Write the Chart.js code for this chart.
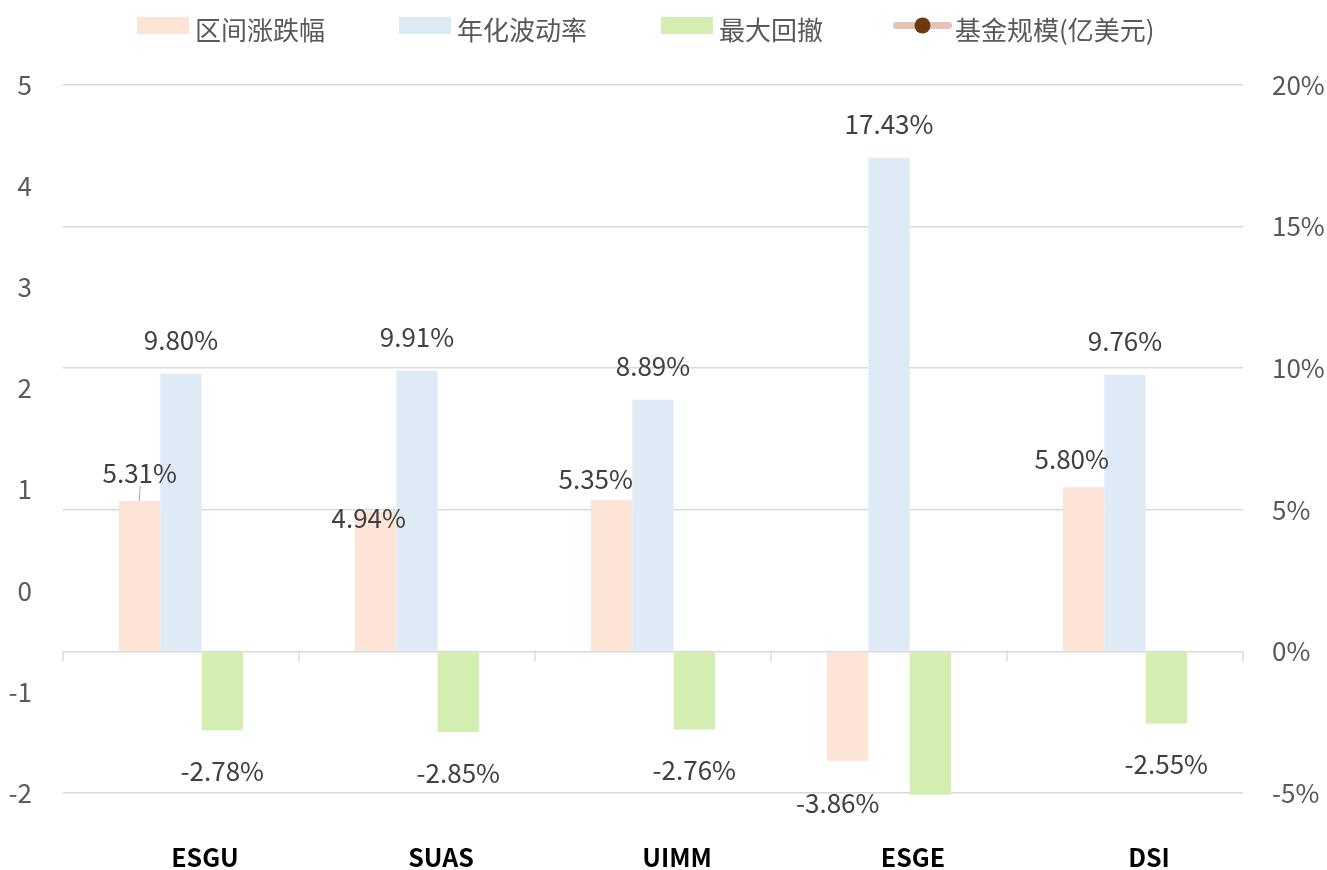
<!DOCTYPE html>
<html>
<head>
<meta charset="utf-8">
<script src="https://cdn.jsdelivr.net/npm/chart.js@4.4.0/dist/chart.umd.min.js"></script>
<style>
  html, body { margin: 0; padding: 0; background: #ffffff; }
  #wrap { width: 1327px; height: 870px; }
</style>
</head>
<body>
<div id="wrap"><canvas id="c" width="1327" height="870"></canvas></div>
<script>
// ---------------- data ----------------
const categories = ['ESGU', 'SUAS', 'UIMM', 'ESGE', 'DSI'];
const seriesNames = ['区间涨跌幅', '年化波动率', '最大回撤', '基金规模(亿美元)'];
const periodReturn = [5.31, 4.94, 5.35, -3.86, 5.80];     // %
const annualVol = [9.80, 9.91, 8.89, 17.43, 9.76];         // %
const maxDrawdown = [-2.78, -2.85, -2.76, -5.06, -2.55];   // %
const fundSize = [null, null, null, null, null];           // 亿美元 (no visible points)
const leftTicks = { min: -2, max: 5, step: 1 };
const rightTicks = { min: -5, max: 20, step: 5 };
const labelShown = [
  [true, true, true, true, true],
  [true, true, true, true, true],
  [true, true, true, false, true]
];

// ---------------- styles ----------------
const FONT = "'Noto Sans CJK SC', 'Noto Sans', sans-serif";
const COL = {
  ret: '#FCE4D6', vol: '#DEEBF7', dd: '#D4EEB1',
  line: '#E6C4B5', dot: '#6B3A0E',
  grid: '#D9D9D9', axis: '#595959', label: '#404040', cat: '#000000'
};
// label centre offsets relative to the end of each bar
const labelOffsets = [
  [[0, -28], [-7, 7], [-16, -21], [-10, 42], [-12, -28]],
  [[0, -34], [0, -34], [0, -34], [0, -34], [0, -34]],
  [[0, 41], [0, 41], [0, 41], [0, 41], [0, 41]]
];
const leaderLines = [
  [true, false, false, false, false],
  [false, false, false, false, false],
  [false, false, false, false, false]
];
const LEGEND_SLOT = 109;

Chart.defaults.font.family = FONT;

// legend icons
function boxIcon(color) {
  const c = document.createElement('canvas');
  c.width = LEGEND_SLOT + 14; c.height = 26;
  const g = c.getContext('2d');
  g.fillStyle = color;
  g.fillRect(c.width - 52, 0, 52, 17);
  return c;
}
function lineIcon() {
  const c = document.createElement('canvas');
  c.width = LEGEND_SLOT + 20; c.height = 26;
  const g = c.getContext('2d');
  const x1 = c.width - 59 + 3.5, x2 = c.width - 3.5, yc = 8.5;
  g.strokeStyle = COL.line; g.lineWidth = 7; g.lineCap = 'round';
  g.beginPath(); g.moveTo(x1, yc); g.lineTo(x2, yc); g.stroke();
  g.fillStyle = COL.dot;
  g.beginPath(); g.arc((x1 + x2) / 2, yc, 8, 0, Math.PI * 2); g.fill();
  return c;
}
const legendIcons = [boxIcon(COL.ret), boxIcon(COL.vol), boxIcon(COL.dd), lineIcon()];

// ---------------- plugins ----------------
const legendSpacing = {
  id: 'legendSpacing',
  beforeLayout(chart) {
    const lg = chart.legend;
    if (lg && !lg._spaced) {
      const orig = lg.fit;
      lg.fit = function () { orig.call(this); this.height += 32; };
      lg._spaced = true;
    }
  }
};

const zeroAxisTicks = {
  id: 'zeroAxisTicks',
  beforeDatasetsDraw(chart) {
    const { ctx, scales: { x, y1 } } = chart;
    const y0 = y1.getPixelForValue(0);
    ctx.save();
    ctx.strokeStyle = COL.grid;
    ctx.lineWidth = 1.5;
    ctx.beginPath();
    for (let i = 0; i <= categories.length; i++) {
      const px = Math.round(x.getPixelForValue(i - 0.5));
      ctx.moveTo(px, y0);
      ctx.lineTo(px, y0 + 10);
    }
    ctx.stroke();
    ctx.restore();
  }
};

const barLabels = {
  id: 'barLabels',
  afterDatasetsDraw(chart) {
    const ctx = chart.ctx;
    ctx.save();
    ctx.font = '26px ' + FONT;
    ctx.textAlign = 'center';
    ctx.textBaseline = 'middle';
    for (let di = 0; di < 3; di++) {
      const meta = chart.getDatasetMeta(di);
      const vals = chart.data.datasets[di].data;
      meta.data.forEach((el, i) => {
        if (!labelShown[di][i]) return;
        const [dx, dy] = labelOffsets[di][i];
        const tx = el.x + dx, ty = el.y + dy;
        if (leaderLines[di][i]) {
          ctx.strokeStyle = '#A6A6A6';
          ctx.lineWidth = 1;
          ctx.beginPath();
          ctx.moveTo(tx + 0.5, ty + 13);
          ctx.lineTo(el.x - 0.5, el.y);
          ctx.stroke();
        }
        ctx.fillStyle = COL.label;
        ctx.fillText(vals[i].toFixed(2) + '%', tx, ty);
      });
    }
    ctx.restore();
  }
};

// ---------------- chart ----------------
new Chart(document.getElementById('c'), {
  data: {
    labels: categories,
    datasets: [
      { type: 'bar', label: seriesNames[0], data: periodReturn, yAxisID: 'y1', backgroundColor: COL.ret, borderWidth: 0 },
      { type: 'bar', label: seriesNames[1], data: annualVol, yAxisID: 'y1', backgroundColor: COL.vol, borderWidth: 0 },
      { type: 'bar', label: seriesNames[2], data: maxDrawdown, yAxisID: 'y1', backgroundColor: COL.dd, borderWidth: 0, clip: false },
      { type: 'line', label: seriesNames[3], data: fundSize, yAxisID: 'y', borderColor: COL.line, backgroundColor: COL.dot,
        borderWidth: 4, pointRadius: 6, pointBackgroundColor: COL.dot, pointBorderColor: COL.dot }
    ]
  },
  options: {
    responsive: false,
    devicePixelRatio: 1,
    animation: false,
    layout: { padding: { top: 7, left: 0, right: 0, bottom: 0 } },
    datasets: { bar: { categoryPercentage: 0.525, barPercentage: 1.0 } },
    plugins: {
      tooltip: { enabled: false },
      legend: {
        display: true,
        position: 'top',
        align: 'start',
        fullSize: false,
        labels: {
          usePointStyle: true,
          pointStyleWidth: LEGEND_SLOT,
          padding: 10,
          color: COL.axis,
          font: { size: 26, family: FONT },
          generateLabels(chart) {
            const items = Chart.defaults.plugins.legend.labels.generateLabels(chart);
            items.forEach((it, i) => { it.pointStyle = legendIcons[i]; });
            return items;
          }
        }
      }
    },
    scales: {
      x: {
        grid: { display: false, drawTicks: false },
        border: { display: false },
        ticks: { color: COL.cat, font: { size: 25, weight: 'bold', lineHeight: 1 }, padding: 52, maxRotation: 0, labelOffset: 24 },
        afterFit(scale) { scale.height = 77; }
      },
      y: {
        position: 'left',
        min: leftTicks.min, max: leftTicks.max,
        grid: { display: false, drawTicks: false },
        border: { display: false },
        ticks: { stepSize: leftTicks.step, color: COL.axis, font: { size: 26 }, padding: 31 },
        afterFit(scale) { scale.width = 63; }
      },
      y1: {
        position: 'right',
        min: rightTicks.min, max: rightTicks.max,
        grid: { color: COL.grid, lineWidth: 1.5, drawTicks: false },
        border: { display: false },
        ticks: { stepSize: rightTicks.step, color: COL.axis, font: { size: 26 }, padding: 29,
                 callback: (v) => v + '%' },
        afterFit(scale) { scale.width = 84; }
      }
    }
  },
  plugins: [legendSpacing, zeroAxisTicks, barLabels]
});
</script>
</body>
</html>
